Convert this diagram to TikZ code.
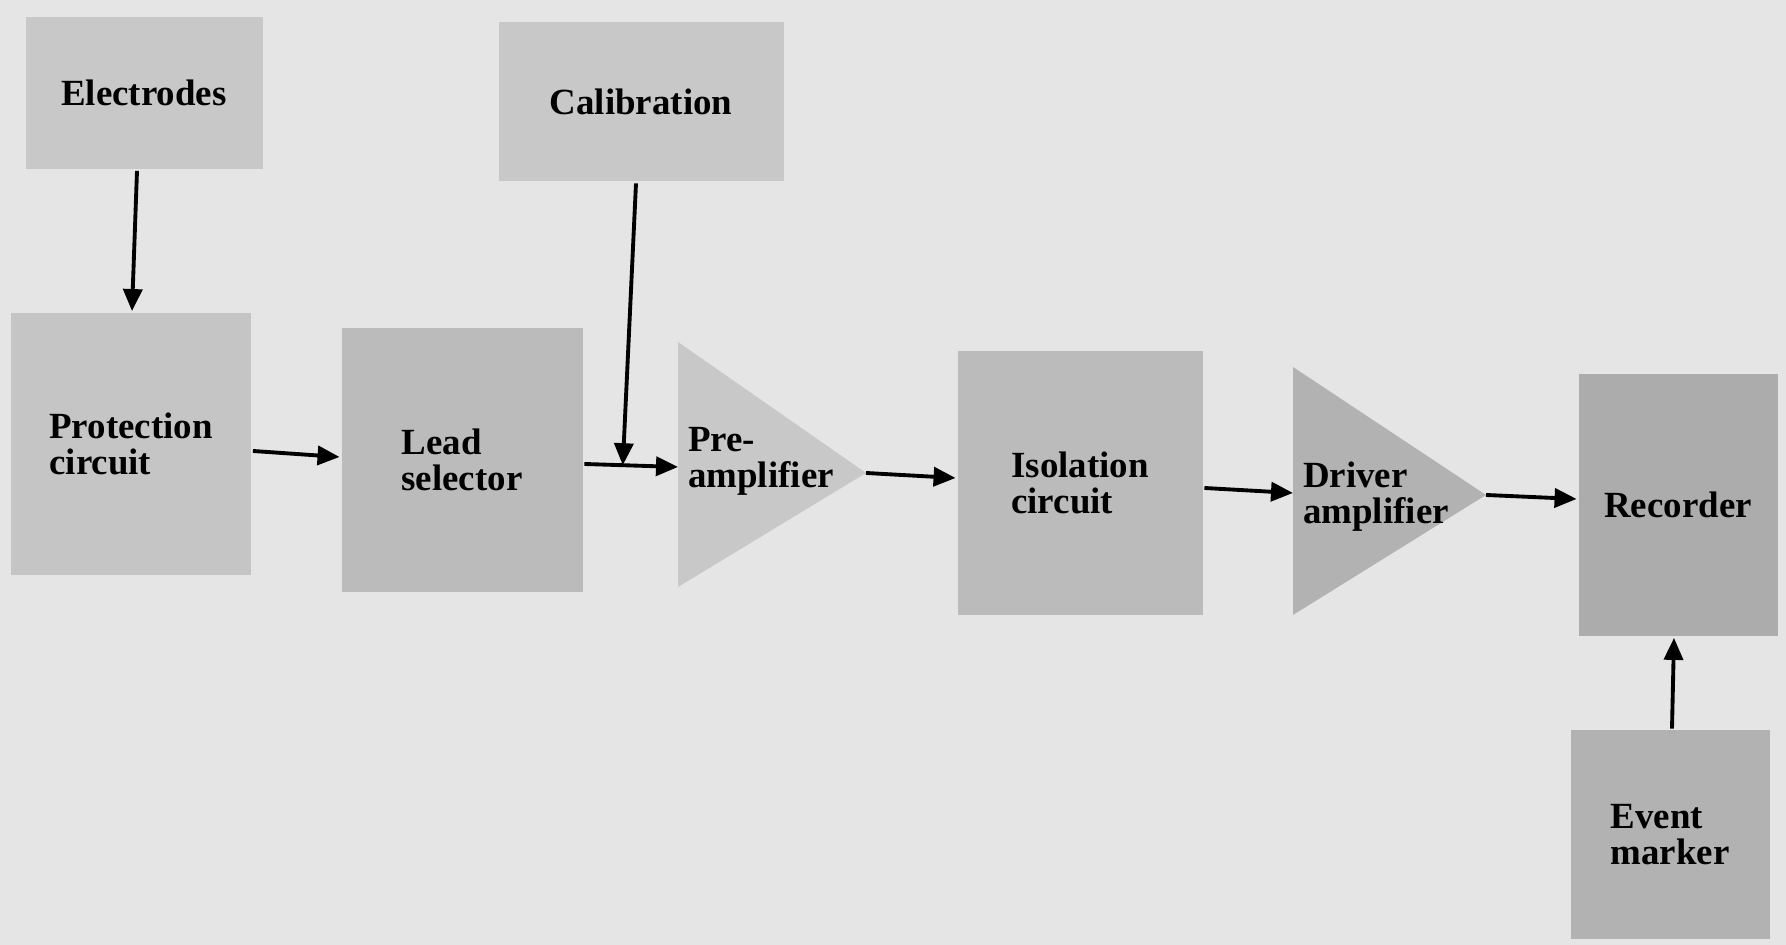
\documentclass[tikz,border=0pt]{standalone}
\usepackage{fontspec}
\setmainfont{Liberation Serif}
\usepackage{xcolor}
\usepackage{tikz}
\usetikzlibrary{positioning}
\usetikzlibrary{calc}
\usetikzlibrary{arrows.meta}
\definecolor{paper}{HTML}{E5E5E5}
\definecolor{stip}{HTML}{BBBBBB}
\definecolor{stiplight}{HTML}{C8C8C8}
\tikzset{>={Triangle[length=2.2mm,width=1.9mm]}}

\begin{document}
\begin{tikzpicture}[line width=1.1pt,
    blk/.style={fill=stip, draw=none, inner sep=0pt, align=left,
      font=\bfseries\fontsize{10.5}{10.3}\selectfont},
    lbl/.style={inner sep=0pt, align=left,
      font=\bfseries\fontsize{10.5}{10.3}\selectfont},
    amp/.style={fill=stiplight, draw=none}]
        % 0. Page and bounding box
        \fill[paper] (0,0) rectangle (17.86,9.45);
        \useasboundingbox (0,0) rectangle (17.86,9.45);

        % 1. Input blocks on top
        \node[blk, fill=stiplight, minimum width=2.37cm, minimum height=1.52cm] (elec) at (1.44,8.52) {Electrodes};
        \node[blk, fill=stiplight, minimum width=2.85cm, minimum height=1.59cm] (calib) at (6.41,8.43) {Calibration};

        % 2. Main chain of blocks
        \node[blk, fill=stip!85!white, minimum width=2.40cm, minimum height=2.62cm] (prot) at (1.31,5.01) {Protection\\circuit};
        \node[blk, minimum width=2.41cm, minimum height=2.64cm] (lead) at (4.62,4.85) {Lead\\selector};
        \node[blk, minimum width=2.45cm, minimum height=2.64cm] (iso) at (10.80,4.62) {Isolation\\circuit};
        \node[blk, fill=stip!92!black, minimum width=1.99cm, minimum height=2.62cm] (rec) at (16.78,4.40) {Recorder};
        \node[blk, fill=stip!95!black, minimum width=1.99cm, minimum height=2.09cm] (event) at (16.70,1.10) {Event\\marker};

        % 3. Amplifier triangles
        \fill[amp] (6.78,6.03) -- (8.66,4.72) coordinate (pre-out) -- (6.78,3.58) -- cycle;
        \coordinate (pre-in) at (6.78,4.78);
        \node[lbl] (pre) at (7.61,4.84) {Pre-\\amplifier};
        \fill[amp, fill=stip!95!black] (12.93,5.78) -- (14.86,4.50) coordinate (drv-out) -- (12.93,3.30) -- cycle;
        \coordinate (drv-in) at (12.93,4.52);
        \node[lbl] (drv) at (13.76,4.48) {Driver\\amplifier};

        % 4. Signal path
        \draw[->] ([xshift=-0.07cm]elec.south) -- ([xshift=0.01cm]prot.north);
        \draw[->] ([yshift=-0.07cm]prot.east) -- ([yshift=0.03cm]lead.west);
        \draw[->] ([yshift=-0.04cm]lead.east) -- (pre-in);
        \coordinate (join) at ($([yshift=-0.04cm]lead.east)!0.41!(pre-in)$);
        \draw[->] ([xshift=-0.05cm]calib.south) -- (join);
        \draw[->] (pre-out) -- ([yshift=0.05cm]iso.west);
        \draw[->] ([yshift=-0.05cm]iso.east) -- (drv-in);
        \draw[->] (drv-out) -- ([yshift=0.06cm]rec.west);
        \draw[->] ([xshift=0.02cm]event.north) -- ([xshift=-0.04cm]rec.south);
    \end{tikzpicture}
\end{document}
